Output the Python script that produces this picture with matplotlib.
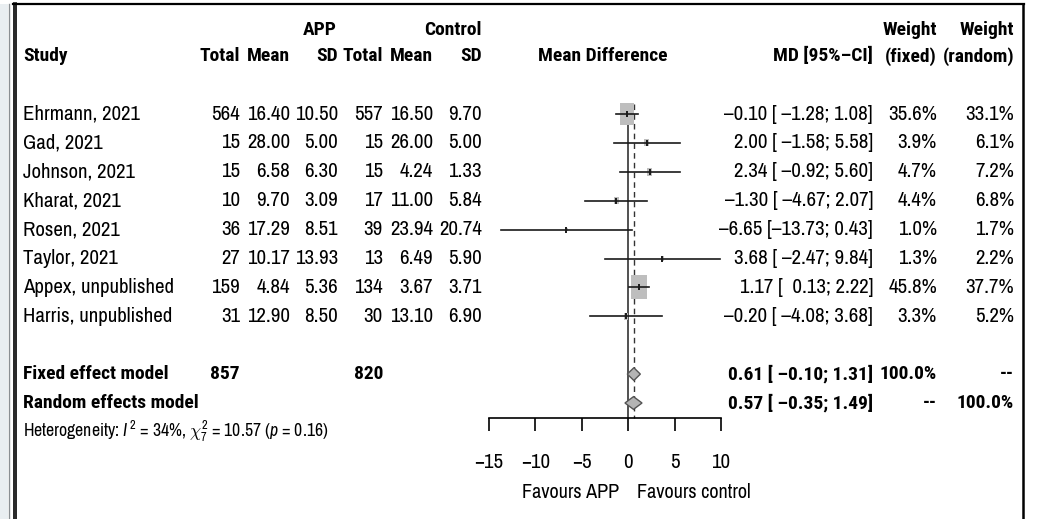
#----Load Packages----
import matplotlib
matplotlib.use("Agg")
import matplotlib.pyplot as plt
from matplotlib import font_manager as fm
from matplotlib.patches import Rectangle, Polygon
from matplotlib.lines import Line2D
from matplotlib.transforms import blended_transform_factory
import numpy as np


def first_font(cands):
    for fam in cands:
        try:
            fm.findfont(fm.FontProperties(family=fam), fallback_to_default=False)
            return fam
        except ValueError:
            pass
    return 'DejaVu Sans'


# narrow sans like the original Helvetica Narrow; Archivo Narrow has no bold, so bold
# text takes a condensed family that has one
narrow = first_font(['Liberation Sans Narrow', 'Arial Narrow', 'Archivo Narrow', 'Roboto Condensed'])
narrow_bold = first_font(['Liberation Sans Narrow', 'Arial Narrow', 'Roboto Condensed', 'Barlow Semi Condensed'])

plt.rcParams['font.family'] = [narrow, 'DejaVu Sans']
plt.rcParams['mathtext.fontset'] = 'custom'
plt.rcParams['mathtext.rm'] = narrow
plt.rcParams['mathtext.it'] = narrow + ':italic'

# ---- data ----
studies = ["Ehrmann, 2021", "Gad, 2021", "Johnson, 2021", "Kharat, 2021",
           "Rosen, 2021", "Taylor, 2021", "Appex, unpublished", "Harris, unpublished"]
app_n = [564, 15, 15, 10, 36, 27, 159, 31]
app_mean = [16.40, 28.00, 6.58, 9.70, 17.29, 10.17, 4.84, 12.90]
app_sd = [10.50, 5.00, 6.30, 3.09, 8.51, 13.93, 5.36, 8.50]
ctrl_n = [557, 15, 15, 17, 39, 13, 134, 30]
ctrl_mean = [16.50, 26.00, 4.24, 11.00, 23.94, 6.49, 3.67, 13.10]
ctrl_sd = [9.70, 5.00, 1.33, 5.84, 20.74, 5.90, 3.71, 6.90]
md = [-0.10, 2.00, 2.34, -1.30, -6.65, 3.68, 1.17, -0.20]
ci_lo = [-1.28, -1.58, -0.92, -4.67, -13.73, -2.47, 0.13, -4.08]
ci_hi = [1.08, 5.58, 5.60, 2.07, 0.43, 9.84, 2.22, 3.68]
w_fixed = [35.6, 3.9, 4.7, 4.4, 1.0, 1.3, 45.8, 3.3]
w_random = [33.1, 6.1, 7.2, 6.8, 1.7, 2.2, 37.7, 5.2]

total_app = 857
total_ctrl = 820
fixed_est = [0.61, -0.10, 1.31]
random_est = [0.57, -0.35, 1.49]
xticks = [-15, -10, -5, 0, 5, 10]

W, H = 1052, 519
FS = 15
FS_BOLD = 14
DASH = '\u2013'


def fmt(v, width=0):
    return f"{v:{width}.2f}".replace('-', DASH)


def px(x):
    return x / W


fig = plt.figure(figsize=(W / 100, H / 100), dpi=100)

# forest panel: pixel 489..721 horizontally, rows mapped 114 + 28.9*row
row0, step = 114, 28.9
y_top, y_axis = 99.5, 418
ax = fig.add_axes([px(489), (H - y_axis) / H, px(232), (y_axis - y_top) / H])
ax.set_xlim(-15, 10)
ax.set_ylim((y_axis - row0) / step, (y_top - row0) / step)
for s in ['top', 'left', 'right']:
    ax.spines[s].set_visible(False)
ax.spines['bottom'].set_linewidth(1.2)
ax.set_yticks([])
ax.set_xticks(xticks)
ax.tick_params(axis='x', direction='out', length=9.5, width=1.2, labelsize=15, pad=16)
ax.patch.set_alpha(0)

rows = np.arange(len(studies))
row_fixed, row_random, row_het = 9, 10, 11
line_top = -0.35

# reference lines
ax.plot([0, 0], [line_top, ax.get_ylim()[0]], color='#333333', lw=1.2, clip_on=False)
ax.plot([fixed_est[0]] * 2, [line_top, ax.get_ylim()[0]], color='#333333', lw=1.0,
        ls=(0, (4, 3)), clip_on=False)

# study boxes and CIs
wx, hy = 0.2556, 0.1227
for r, m, lo, hi, w in zip(rows, md, ci_lo, ci_hi, w_fixed):
    s = np.sqrt(w)
    ax.add_patch(Rectangle((m - wx * s / 2, r - hy * s / 2), wx * s, hy * s,
                           facecolor='#bebebe', edgecolor='none', zorder=2))
    ax.plot([lo, hi], [r, r], color='#1a1a1a', lw=1.2, zorder=3)
    ax.plot([m], [r], marker='|', color='#1a1a1a', ms=5, mew=1.4, zorder=4)

# summary diamonds
for r, (est, lo, hi) in [(row_fixed, fixed_est), (row_random, random_est)]:
    ax.add_patch(Polygon([(lo, r), (est, r - 0.22), (hi, r), (est, r + 0.22)],
                         closed=True, facecolor='#b4b4b4', edgecolor='#555555',
                         lw=1.0, zorder=4))

ax.text(-1, 13.1, "Favours APP", ha='right', va='center', fontsize=14.5)
ax.text(1, 13.1, "Favours control", ha='left', va='center', fontsize=14.5)

# ---- table text ----
T = blended_transform_factory(fig.transFigure, ax.transData)


def put(x, y, s, ha='right', bold=False, size=FS):
    if bold:
        ax.text(px(x), y, s, transform=T, ha=ha, va='center', fontsize=FS_BOLD,
                family=[narrow_bold, 'DejaVu Sans'], fontweight='bold', clip_on=False)
    else:
        ax.text(px(x), y, s, transform=T, ha=ha, va='center', fontsize=size, clip_on=False)


hdr1, hdr2 = -2.9, -2.0
put(337, hdr1, "APP", bold=True)
put(482, hdr1, "Control", bold=True)
put(937, hdr1, "Weight", bold=True)
put(1014, hdr1, "Weight", bold=True)
put(23, hdr2, "Study", ha='left', bold=True)
col_x = [240, 290, 338, 383, 433, 482]
for x, lab in zip(col_x, ["Total", "Mean", "SD", "Total", "Mean", "SD"]):
    put(x, hdr2, lab, bold=True)
put(603, hdr2, "Mean Difference", ha='center', bold=True)
put(873, hdr2, "MD [95%" + DASH + "CI]", bold=True)
put(937, hdr2, "(fixed)", bold=True)
put(1014, hdr2, "(random)", bold=True)

for i, r in enumerate(rows):
    put(23, r, studies[i], ha='left')
    put(240, r, str(app_n[i]))
    put(290, r, fmt(app_mean[i]))
    put(338, r, fmt(app_sd[i]))
    put(383, r, str(ctrl_n[i]))
    put(433, r, fmt(ctrl_mean[i]))
    put(482, r, fmt(ctrl_sd[i]))
    put(873, r, f"{fmt(md[i])} [{fmt(ci_lo[i], 6)}; {fmt(ci_hi[i])}]")
    put(937, r, f"{w_fixed[i]:.1f}%")
    put(1014, r, f"{w_random[i]:.1f}%")

put(23, row_fixed, "Fixed effect model", ha='left', bold=True)
put(240, row_fixed, str(total_app), bold=True)
put(383, row_fixed, str(total_ctrl), bold=True)
put(873, row_fixed, f"{fmt(fixed_est[0])} [{fmt(fixed_est[1], 6)}; {fmt(fixed_est[2])}]", bold=True)
put(937, row_fixed, "100.0%", bold=True)
put(1014, row_fixed, "--", bold=True)

put(23, row_random, "Random effects model", ha='left', bold=True)
put(873, row_random, f"{fmt(random_est[0])} [{fmt(random_est[1], 6)}; {fmt(random_est[2])}]", bold=True)
put(937, row_random, "--", bold=True)
put(1014, row_random, "100.0%", bold=True)

put(23, row_het, r"Heterogeneity: $\mathit{I}^{\,2}$ = 34%, $\chi^2_7$ = 10.57 ($\mathit{p}$ = 0.16)",
    ha='left', size=12.8)

# ---- frame ----
fig.add_artist(Rectangle((0, 0), px(8), 1 - 4 / H, transform=fig.transFigure,
                         facecolor='#e9eef1', edgecolor='none'))
fig.add_artist(Line2D([px(8.5)] * 2, [0, 1 - 4 / H], transform=fig.transFigure,
                      color='#8a8f93', lw=1.0))
for xx in [13.5, 16.2]:
    fig.add_artist(Line2D([px(xx)] * 2, [0, 1 - 3 / H], transform=fig.transFigure,
                          color='black', lw=1.2))
fig.add_artist(Line2D([px(13), px(1024)], [1 - 3.5 / H] * 2, transform=fig.transFigure,
                      color='black', lw=1.6))
fig.add_artist(Line2D([px(1023)] * 2, [0, 1 - 3.5 / H], transform=fig.transFigure,
                      color='black', lw=1.8))

fig.savefig("out.png", dpi=100)
